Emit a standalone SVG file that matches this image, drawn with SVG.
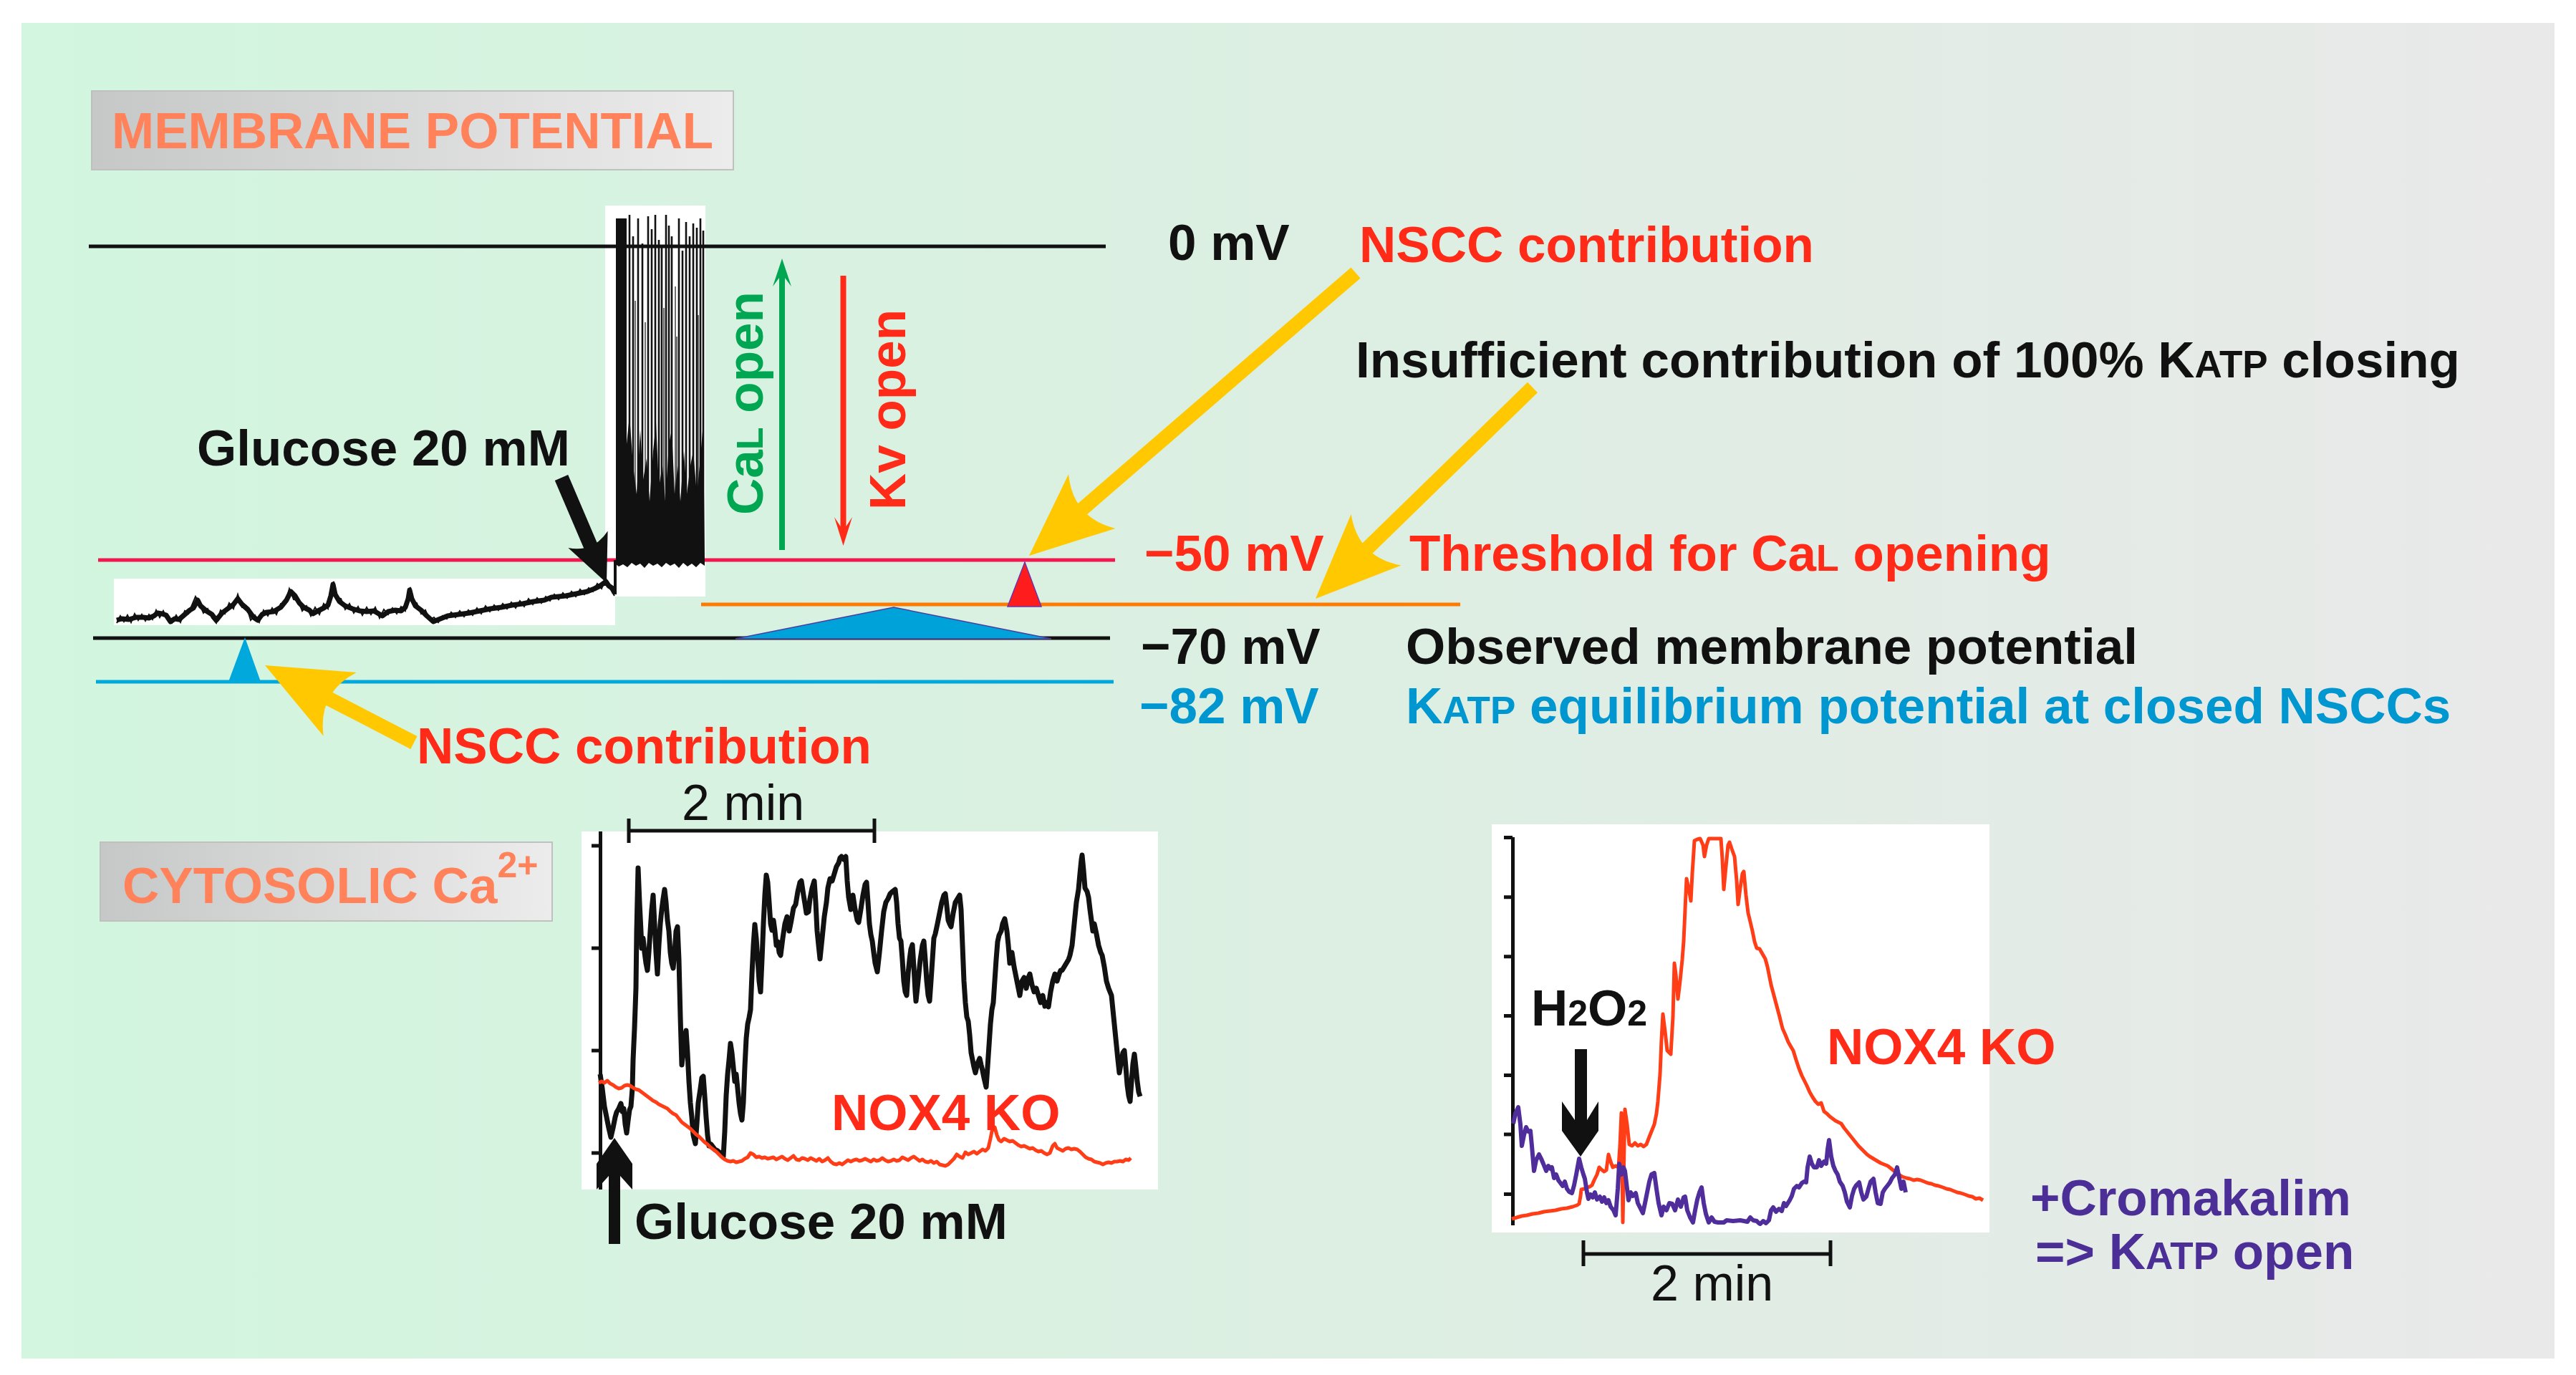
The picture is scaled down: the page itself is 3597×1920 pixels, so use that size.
<svg xmlns="http://www.w3.org/2000/svg" width="3597" height="1920" viewBox="0 0 3597 1920">
<defs>
<linearGradient id="bg" x1="0" y1="0" x2="1" y2="0">
<stop offset="0" stop-color="#d2f6df"/><stop offset="0.5" stop-color="#dcefe2"/><stop offset="1" stop-color="#e9e9e9"/>
</linearGradient>
<linearGradient id="gbox" x1="0" y1="0" x2="1" y2="0">
<stop offset="0" stop-color="#c6c7c7"/><stop offset="1" stop-color="#ececec"/>
</linearGradient>
<style>
.t{font-family:"Liberation Sans",Arial,sans-serif;font-weight:bold;font-size:71px}
.n{font-family:"Liberation Sans",Arial,sans-serif;font-weight:normal;font-size:70px;fill:#111}
.hd{fill:#ff825a}
.k{fill:#111}
.red{fill:#ff2a17}
.cy{fill:#0096d0}
.pu{fill:#4b2e96}
.gr{fill:#00a651}
.ln{fill:none;stroke-width:5}
.yel{fill:#ffc800}
.yshaft{stroke:#ffc800;stroke-width:20;fill:none}
.trk{fill:none;stroke:#111;stroke-width:7;stroke-linejoin:round}
.trr{fill:none;stroke:#ff3d17;stroke-width:5;stroke-linejoin:round}
.trp{fill:none;stroke:#4f2e9c;stroke-width:6;stroke-linejoin:round}
.ax{stroke:#111;stroke-width:5;fill:none}
</style>
</defs>
<rect x="0" y="0" width="3597" height="1920" fill="#ffffff"/>
<rect x="30" y="32" width="3537" height="1865" fill="url(#bg)"/>

<g id="title-membrane">
<rect x="128" y="127" width="896" height="110" fill="url(#gbox)" stroke="#c0c0c0" stroke-width="2"/>
<text x="156" y="207" class="t hd">MEMBRANE POTENTIAL</text>
</g>

<g id="spike-trace">
<rect x="845" y="287" width="140" height="546" fill="#ffffff"/>
</g>
<g id="glucose-trace-box">
<rect x="159" y="808" width="700" height="65" fill="#ffffff"/>
</g>

<g id="potential-lines">
<line x1="124" y1="344" x2="1544" y2="344" class="ln" stroke="#111"/>
<line x1="137" y1="782" x2="1557" y2="782" class="ln" stroke="#f2184f"/>
<line x1="979" y1="844" x2="2039" y2="844" class="ln" stroke="#ff7a00" stroke-width="6"/>
<line x1="130" y1="891" x2="1550" y2="891" class="ln" stroke="#111"/>
<line x1="134" y1="952" x2="1555" y2="952" class="ln" stroke="#00a8dc" stroke-width="6"/>
</g>

<g id="spikes">
<rect x="860" y="305" width="15" height="477" fill="#111"/>
<g stroke="#111" stroke-width="2.6">
<line x1="879" y1="300" x2="879" y2="782"/><line x1="884" y1="330" x2="884" y2="782"/><line x1="891" y1="305" x2="891" y2="782"/><line x1="897" y1="340" x2="897" y2="782"/><line x1="905" y1="302" x2="905" y2="782"/><line x1="910" y1="320" x2="910" y2="782"/><line x1="915" y1="300" x2="915" y2="782"/><line x1="920" y1="335" x2="920" y2="782"/><line x1="924" y1="345" x2="924" y2="782"/><line x1="930" y1="300" x2="930" y2="782"/><line x1="934" y1="315" x2="934" y2="782"/><line x1="938" y1="330" x2="938" y2="782"/><line x1="948" y1="305" x2="948" y2="782"/><line x1="953" y1="350" x2="953" y2="782"/><line x1="958" y1="310" x2="958" y2="782"/><line x1="963" y1="330" x2="963" y2="782"/><line x1="968" y1="312" x2="968" y2="782"/><line x1="973" y1="318" x2="973" y2="782"/><line x1="978" y1="305" x2="978" y2="782"/><line x1="982" y1="322" x2="982" y2="782"/>
</g>
<g stroke="#111" stroke-width="1.2">
<line x1="887" y1="420" x2="887" y2="782"/><line x1="901" y1="450" x2="901" y2="782"/><line x1="927" y1="430" x2="927" y2="782"/><line x1="943" y1="400" x2="943" y2="782"/><line x1="945" y1="470" x2="945" y2="782"/><line x1="975" y1="440" x2="975" y2="782"/>
</g>
<polygon fill="#111" points="875,620 879,580 884,650 889,690 894,600 898,670 903,640 907,700 912,630 916,590 920,680 925,650 929,700 934,620 938,600 942,690 946,650 950,700 955,630 959,690 964,650 968,630 973,690 977,650 982,590 984,782 875,782"/>
<polygon fill="#111" points="860,780 984,780 984,790 978,786 972,792 966,787 960,791 954,786 948,793 942,787 936,790 930,786 924,792 918,787 912,790 906,786 900,793 894,787 888,790 882,786 876,792 870,788 864,791 860,788"/>
<line x1="859" y1="830" x2="859" y2="782" stroke="#111" stroke-width="4"/>
</g>

<g id="glucose-trace">
<polyline class="trk" stroke-width="9" points="163,866 170,864 180,865 190,862 200,862 208,863 215,860 220,856 226,857 232,859 238,868 244,864 250,865 258,858 265,852 270,849 276,838 280,846 288,853 296,858 302,866 310,856 318,850 326,844 332,836 338,844 346,851 354,862 360,866 366,858 372,855 382,854 392,848 400,838 406,826 412,832 418,842 424,848 432,852 437,857 444,853 452,849 458,845 462,832 465,816 468,830 474,840 482,846 492,850 502,853 512,854 522,853 534,860 542,854 552,852 560,853 566,848 570,836 572,824 575,836 580,846 588,852 596,860 605,868 615,864 625,860 640,858 655,856 670,853 685,850 700,848 715,845 730,843 745,840 760,838 770,834 780,833 790,832 800,830 810,828 820,826 830,822 838,818 846,812 850,818 856,822 858,828"/>
<polyline fill="none" stroke="#111" stroke-width="2" points="163,870 168,860 173,868 178,859 183,869 188,857 193,866 198,858 203,867 208,858 213,865 218,852 223,862 228,853 233,864 240,870 246,859 252,869 258,853 263,857 268,845 273,833 278,842 284,856 290,850 296,863 302,870 308,852 314,857 320,842 326,850 332,830 338,848 344,846 350,866 356,859 362,869 368,852 374,860 380,849 386,858 392,843 398,843 404,822 410,837 416,838 422,853 428,846 434,860 440,848 446,858 452,843 458,850 462,826 466,812 470,835 476,836 482,851 488,843 494,856 500,847 506,859 512,848 518,858 524,848 530,863 536,851 542,858 548,849 554,857 560,847 566,853 570,830 573,820 577,840 582,842 588,857 594,852 600,866 606,862 612,869 618,860 624,864 630,855 636,862 642,853 648,861 654,852 660,859 666,849 672,857 678,846 684,854 690,845 696,852 702,843 708,850 714,841 720,849 726,839 732,847 738,836 744,844 750,835 756,842 762,833 768,839 774,830 780,837 786,828 792,835 798,826 804,833 810,823 816,830 822,821 828,826 834,815 840,822 846,808 852,822 858,832"/>
</g>

<g id="triangles">
<polygon points="1431,785 1407,847 1454,847" fill="#ff1c1c" stroke="#6a35a8" stroke-width="1.5"/>
<polygon points="1248,848 1027,892 1468,892" fill="#00a3d9" stroke="#4a3f9f" stroke-width="1.5"/>
<polygon points="342,890 319,952 364,952" fill="#00a8dc"/>
</g>

<g id="channel-arrows">
<polygon class="gr" points="1092,361 1105,400 1096,388 1096,768 1088,768 1088,388 1079,400"/>
<polygon class="red" points="1173.5,385 1181.5,385 1181.5,735 1190,722 1177.5,762 1165,722 1173.5,735"/>
<text class="t gr" transform="translate(1065,719) rotate(-90)">Ca<tspan font-size="52">L</tspan> open</text>
<text class="t red" transform="translate(1264,712) rotate(-90)">Kv open</text>
</g>

<g id="labels-top">
<text x="275" y="650" class="t k">Glucose 20 mM</text>
<text x="1631" y="363" class="t k">0 mV</text>
<text x="1898" y="366" class="t red">NSCC contribution</text>
<text x="1893" y="527" class="t k">Insufficient contribution of 100% K<tspan font-size="53">ATP</tspan> closing</text>
<text x="1598" y="797" class="t red">−50 mV</text>
<text x="1968" y="797" class="t red">Threshold for Ca<tspan font-size="52">L</tspan> opening</text>
<text x="1593" y="927" class="t k">−70 mV</text>
<text x="1963" y="927" class="t k">Observed membrane potential</text>
<text x="1591" y="1010" class="t cy">−82 mV</text>
<text x="1963" y="1010" class="t cy">K<tspan font-size="53">ATP</tspan> equilibrium potential at closed NSCCs</text>
<text x="582" y="1066" class="t red">NSCC contribution</text>
</g>

<g id="connectors">
<line x1="1893" y1="381" x2="1510" y2="712" class="yshaft"/>
<path class="yel" d="M1437,776 L1557.4,737.9 Q1498.2,723 1492,662.3 Z"/>
<line x1="2140" y1="541" x2="1907" y2="768" class="yshaft"/>
<path class="yel" d="M1837,836 L1956.4,789.5 Q1896.4,778.1 1886.6,717.9 Z"/>
<line x1="578" y1="1037" x2="458" y2="975" class="yshaft"/>
<path class="yel" d="M370,929 L497.7,939 Q443.6,967.3 451.7,1027.8 Z"/>
<line x1="784" y1="667" x2="828" y2="770" stroke="#111" stroke-width="20"/>
<path fill="#111" d="M847,814 L793.4,765.1 Q828.9,771.7 848.6,741.5 Z"/>
</g>

<g id="title-cytosolic">
<rect x="140" y="1176" width="631" height="110" fill="url(#gbox)" stroke="#c0c0c0" stroke-width="2"/>
<text x="171" y="1261" class="t hd">CYTOSOLIC Ca<tspan font-size="50" dy="-36">2+</tspan></text>
</g>

<g id="chart-left">
<rect x="812" y="1161" width="805" height="500" fill="#ffffff"/>
<line x1="838.5" y1="1161" x2="838.5" y2="1661" class="ax"/>
<path class="ax" stroke-width="4" d="M826,1181H838M826,1324H838M826,1467H838M826,1610H838"/>
<path class="ax" stroke-width="4" d="M878,1143V1177M878,1160H1221M1221,1143V1177"/>
<text x="952" y="1145" class="n">2 min</text>
<polyline class="trk" points="838,1500 841,1520 844,1545 847,1560 850,1575 853,1588 856,1575 859,1560 861,1553 864,1548 867,1541 869,1552 871,1548 873,1570 875,1582 877,1565 879,1550 881,1545 883,1520 884,1480 886,1436 888,1380 889,1300 891,1212 893,1260 895,1300 896,1324 898,1310 900,1330 902,1345 904,1355 906,1330 908,1300 910,1270 912,1250 914,1290 916,1330 918,1360 920,1320 922,1290 924,1270 926,1255 928,1242 930,1260 932,1285 934,1300 936,1330 938,1345 940,1352 942,1330 944,1300 946,1294 948,1340 950,1420 952,1487 954,1470 956,1450 958,1439 960,1470 962,1510 964,1540 966,1560 968,1585 971,1597 973,1570 975,1540 978,1520 980,1505 982,1503 984,1530 986,1560 988,1585 990,1600 993,1598 996,1602 998,1605 1002,1607 1006,1610 1010,1615 1012,1580 1014,1530 1016,1500 1018,1480 1020,1457 1022,1470 1024,1490 1026,1510 1028,1500 1030,1520 1032,1540 1034,1555 1036,1564 1038,1540 1040,1490 1042,1450 1044,1430 1046,1421 1048,1410 1050,1360 1052,1320 1054,1291 1056,1310 1058,1340 1060,1370 1062,1385 1064,1340 1066,1290 1068,1250 1070,1222 1072,1232 1074,1260 1076,1290 1078,1299 1080,1285 1082,1300 1084,1320 1086,1315 1088,1330 1090,1334 1093,1310 1096,1290 1099,1280 1102,1300 1105,1285 1108,1268 1111,1263 1114,1245 1117,1232 1119,1230 1122,1250 1124,1262 1126,1275 1129,1273 1131,1255 1134,1240 1137,1230 1139,1260 1141,1300 1143,1320 1145,1339 1148,1310 1151,1280 1154,1260 1156,1240 1159,1227 1162,1230 1165,1220 1168,1210 1171,1205 1173,1198 1175,1196 1178,1200 1181,1196 1183,1230 1185,1253 1188,1270 1191,1250 1194,1270 1197,1285 1199,1288 1202,1270 1205,1250 1208,1235 1210,1232 1212,1260 1214,1290 1216,1305 1218,1314 1220,1330 1222,1345 1225,1357 1228,1330 1231,1300 1234,1273 1237,1260 1240,1255 1243,1248 1246,1245 1250,1242 1252,1260 1254,1290 1256,1310 1258,1314 1260,1340 1262,1370 1264,1385 1266,1390 1268,1360 1270,1340 1272,1325 1274,1319 1276,1350 1278,1385 1279,1398 1282,1370 1285,1340 1288,1320 1290,1314 1292,1340 1294,1370 1296,1390 1298,1398 1300,1370 1302,1340 1304,1310 1306,1304 1309,1290 1312,1275 1315,1260 1318,1250 1320,1248 1322,1265 1324,1285 1326,1290 1328,1294 1331,1275 1334,1260 1337,1255 1340,1250 1342,1270 1344,1320 1346,1370 1348,1400 1350,1420 1352,1426 1354,1445 1356,1470 1358,1480 1360,1490 1362,1498 1365,1485 1368,1478 1370,1487 1372,1495 1374,1505 1377,1518 1379,1490 1381,1460 1383,1430 1385,1410 1387,1400 1389,1370 1391,1340 1393,1315 1395,1306 1398,1300 1400,1290 1403,1283 1406,1300 1408,1320 1410,1345 1413,1330 1416,1350 1419,1365 1422,1380 1424,1390 1427,1370 1430,1365 1433,1380 1436,1365 1438,1360 1441,1375 1444,1385 1447,1380 1450,1390 1453,1400 1456,1390 1459,1405 1462,1400 1464,1406 1467,1385 1470,1370 1473,1360 1476,1370 1479,1360 1481,1355 1483,1355 1486,1350 1489,1345 1492,1340 1494,1334 1497,1320 1500,1290 1503,1260 1506,1242 1508,1220 1510,1200 1511,1194 1513,1215 1515,1240 1518,1245 1520,1253 1522,1270 1524,1285 1526,1300 1528,1290 1531,1304 1534,1320 1537,1330 1539,1334 1542,1350 1545,1370 1548,1380 1550,1385 1552,1390 1555,1420 1558,1450 1561,1480 1563,1498 1566,1480 1568,1470 1570,1467 1572,1490 1574,1515 1576,1530 1578,1538 1580,1510 1582,1485 1584,1472 1586,1490 1588,1510 1590,1525 1592,1531"/>
<polyline class="trr" points="836,1512 840,1510 844,1512 848,1509 852,1513 856,1515 860,1518 864,1520 868,1519 872,1516 876,1515 880,1516 884,1519 888,1521 892,1522 896,1525 900,1528 904,1531 908,1534 912,1537 916,1539 920,1542 924,1544 928,1546 932,1548 936,1552 940,1555 944,1557 948,1562 952,1567 956,1570 960,1573 964,1576 968,1580 972,1584 976,1587 980,1591 984,1595 988,1598 992,1602 996,1605 1000,1608 1004,1612 1008,1616 1012,1619 1016,1621 1020,1622 1024,1621 1028,1623 1032,1622 1036,1621 1040,1618 1044,1616 1048,1610 1052,1612 1056,1616 1060,1615 1064,1617 1068,1616 1072,1618 1076,1617 1080,1616 1084,1619 1088,1617 1092,1615 1096,1618 1100,1620 1104,1617 1108,1614 1112,1619 1116,1620 1120,1617 1124,1618 1128,1620 1132,1617 1136,1619 1140,1621 1144,1618 1148,1622 1152,1620 1156,1617 1160,1622 1164,1625 1168,1626 1172,1624 1176,1626 1180,1623 1184,1620 1188,1622 1192,1620 1196,1619 1200,1621 1204,1620 1208,1618 1212,1620 1216,1622 1220,1619 1224,1621 1228,1620 1232,1617 1236,1620 1240,1622 1244,1621 1248,1619 1252,1621 1256,1620 1260,1616 1264,1618 1268,1620 1272,1617 1276,1615 1280,1618 1284,1621 1288,1619 1292,1622 1296,1623 1300,1621 1304,1624 1308,1622 1312,1626 1316,1627 1320,1628 1324,1626 1328,1622 1332,1618 1336,1612 1340,1615 1344,1617 1348,1609 1352,1612 1356,1610 1360,1608 1364,1611 1368,1608 1372,1605 1376,1607 1380,1603 1383,1590 1386,1575 1389,1574 1392,1585 1395,1592 1398,1594 1402,1590 1406,1592 1410,1594 1414,1593 1418,1596 1422,1599 1426,1601 1430,1600 1434,1602 1438,1604 1442,1603 1446,1606 1450,1608 1454,1607 1458,1610 1462,1612 1466,1610 1470,1600 1473,1597 1476,1603 1480,1605 1484,1607 1488,1604 1492,1603 1496,1605 1500,1604 1504,1605 1508,1608 1512,1612 1516,1616 1520,1618 1524,1619 1528,1622 1532,1623 1536,1624 1540,1626 1544,1624 1548,1623 1552,1624 1556,1622 1560,1622 1564,1621 1568,1622 1572,1619 1576,1620 1579,1617"/>
<text x="1161" y="1578" class="t red">NOX4 KO</text>
<polygon fill="#111" points="858,1589 883,1625 883,1661 866,1642 866,1737 850,1737 850,1642 833,1661 833,1625"/>
<text x="886" y="1730" class="t k">Glucose 20 mM</text>
</g>

<g id="chart-right">
<rect x="2083" y="1151" width="695" height="570" fill="#ffffff"/>
<line x1="2112.5" y1="1169" x2="2112.5" y2="1711" class="ax"/>
<path class="ax" stroke-width="4" d="M2100,1169.5H2112M2100,1252.7H2112M2100,1335.8H2112M2100,1418.5H2112M2100,1501.6H2112M2100,1584H2112M2100,1667.5H2112"/>
<path class="ax" stroke-width="4" d="M2211,1732V1768M2211,1751H2556M2556,1732V1768"/>
<text x="2305" y="1816" class="n">2 min</text>
<polyline class="trr" points="2111,1702 2118,1700 2125,1698 2132,1697 2140,1695 2148,1694 2156,1692 2164,1691 2172,1690 2180,1688 2188,1687 2196,1685 2202,1683 2205,1681 2207,1670 2208,1661 2212,1660 2216,1658 2220,1657 2223,1655 2226,1648 2230,1640 2233,1630 2236,1633 2240,1636 2243,1634 2246,1612 2249,1622 2252,1630 2256,1628 2260,1630 2262,1600 2264,1554 2266,1707 2268,1600 2269,1549 2272,1570 2275,1598 2279,1600 2283,1596 2287,1600 2291,1598 2295,1601 2299,1598 2302,1590 2306,1580 2310,1570 2313,1555 2315,1538 2318,1500 2320,1452 2322,1416 2325,1440 2328,1467 2331,1470 2333,1472 2336,1420 2338,1345 2340,1360 2343,1395 2346,1370 2349,1340 2351,1314 2353,1270 2355,1227 2358,1240 2361,1258 2363,1220 2366,1174 2370,1172 2374,1171 2378,1180 2380,1196 2383,1180 2386,1171 2392,1171 2398,1171 2403,1171 2405,1200 2407,1242 2410,1210 2413,1180 2415,1176 2418,1185 2422,1196 2425,1230 2427,1263 2430,1240 2433,1220 2435,1217 2438,1250 2441,1275 2443,1283 2447,1300 2450,1315 2453,1324 2457,1325 2461,1332 2465,1339 2468,1350 2471,1365 2473,1375 2477,1390 2481,1405 2485,1420 2489,1436 2493,1445 2497,1455 2501,1462 2504,1467 2508,1480 2512,1492 2516,1502 2519,1508 2523,1516 2527,1525 2531,1532 2535,1538 2539,1542 2543,1540 2547,1552 2551,1555 2555,1559 2559,1562 2563,1565 2567,1567 2571,1569 2575,1575 2579,1580 2583,1585 2587,1590 2591,1595 2595,1600 2599,1604 2603,1608 2607,1612 2611,1615 2616,1618 2621,1621 2626,1624 2631,1626 2636,1628 2641,1632 2646,1636 2651,1640 2656,1643 2662,1645 2667,1646 2672,1648 2677,1647 2682,1648 2687,1650 2692,1652 2697,1653 2702,1655 2707,1656 2713,1658 2718,1660 2723,1661 2728,1663 2733,1665 2738,1666 2744,1668 2749,1670 2754,1671 2759,1674 2764,1673 2769,1676"/>
<polyline class="trp" points="2113,1569 2116,1555 2120,1546 2123,1570 2125,1600 2128,1585 2131,1574 2134,1580 2137,1579 2139,1600 2142,1635 2145,1620 2149,1612 2152,1618 2155,1625 2159,1635 2162,1628 2165,1632 2167,1630 2170,1645 2173,1640 2176,1648 2179,1652 2182,1656 2185,1650 2188,1660 2191,1664 2195,1666 2198,1655 2201,1640 2205,1618 2208,1630 2211,1640 2213,1646 2216,1665 2218,1674 2221,1668 2224,1672 2227,1665 2230,1675 2234,1671 2237,1678 2240,1672 2243,1680 2246,1676 2249,1685 2253,1690 2256,1697 2259,1660 2261,1625 2264,1640 2267,1630 2269,1635 2272,1660 2274,1676 2277,1665 2280,1670 2284,1666 2287,1680 2290,1686 2294,1694 2297,1680 2300,1665 2303,1650 2306,1640 2310,1638 2313,1660 2316,1680 2320,1697 2323,1685 2327,1690 2331,1680 2335,1681 2339,1690 2343,1675 2347,1685 2351,1672 2353,1671 2356,1690 2360,1700 2364,1707 2367,1690 2370,1675 2373,1665 2376,1658 2379,1680 2382,1695 2386,1707 2390,1700 2394,1706 2399,1707 2403,1707 2407,1707 2411,1704 2420,1705 2430,1704 2440,1706 2444,1700 2448,1704 2453,1705 2456,1708 2458,1709 2462,1705 2466,1708 2470,1704 2473,1690 2476,1686 2480,1692 2484,1688 2488,1691 2491,1680 2494,1684 2499,1676 2502,1670 2505,1660 2509,1656 2512,1658 2516,1652 2519,1650 2522,1651 2524,1630 2527,1615 2530,1625 2533,1630 2537,1630 2540,1620 2543,1628 2547,1622 2550,1625 2552,1605 2554,1592 2557,1615 2560,1628 2563,1635 2566,1640 2569,1650 2573,1656 2576,1665 2579,1678 2583,1686 2586,1670 2589,1660 2592,1655 2596,1651 2599,1665 2602,1675 2606,1671 2609,1660 2612,1650 2616,1646 2619,1665 2622,1680 2626,1681 2629,1665 2632,1660 2636,1655 2639,1651 2642,1645 2646,1640 2649,1630 2652,1645 2655,1660 2658,1650 2661,1665"/>
<text x="2138" y="1432" class="t k">H<tspan font-size="50">2</tspan>O<tspan font-size="50">2</tspan></text>
<polygon fill="#111" points="2199,1465 2216,1465 2216,1564 2232,1538 2232,1579 2207,1615 2181,1579 2181,1538 2199,1564"/>
<text x="2551" y="1486" class="t red">NOX4 KO</text>
<text x="2835" y="1697" class="t pu">+Cromakalim</text>
<text x="2842" y="1772" class="t pu">=&gt; K<tspan font-size="53">ATP</tspan> open</text>
</g>
</svg>
